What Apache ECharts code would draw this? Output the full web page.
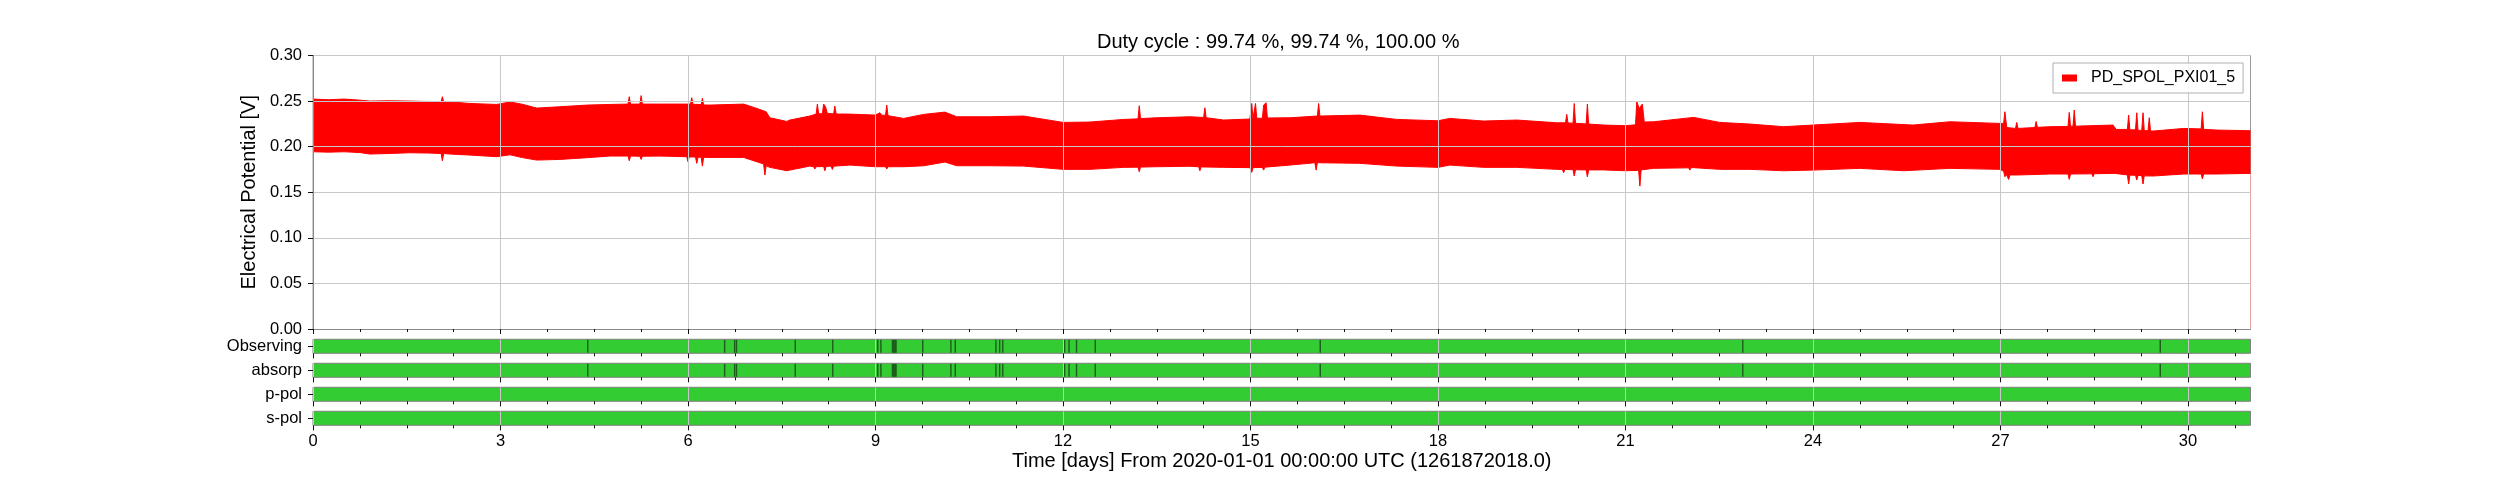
<!DOCTYPE html>
<html lang="en">
<head>
  <meta charset="UTF-8">
  <script src="https://cdn.jsdelivr.net/npm/echarts@6/dist/echarts.min.js"></script>
  <title>PD_SPOL_PXI01_5 duty cycle</title>
  <style>
    * { margin: 0; padding: 0; }
    html, body { width: 2500px; height: 500px; background: #fff; }
    #chart { width: 2500px; height: 500px; }
  </style>
</head>
<body>
<div id="chart"></div>
<script>
  // upper / lower envelope of the signal, [day, volts]
  const upperEnv = [[0.00,0.2522],[0.25,0.2515],[0.50,0.2522],[0.75,0.2510],[0.91,0.2500],[1.20,0.2503],[1.55,0.2500],[1.85,0.2495],
    [2.05,0.2493],[2.07,0.2548],[2.09,0.2492],[2.30,0.2485],[2.51,0.2474],[2.94,0.2463],[3.15,0.2490],[3.35,0.2465],[3.58,0.2423],
    [3.95,0.2438],[4.38,0.2456],[4.75,0.2463],[5.04,0.2467],[5.06,0.2548],[5.08,0.2467],[5.23,0.2467],[5.25,0.2560],[5.27,0.2467],
    [5.55,0.2467],[5.98,0.2467],[6.04,0.2467],[6.06,0.2537],[6.08,0.2465],[6.21,0.2462],[6.23,0.2530],[6.25,0.2458],[6.35,0.2456],
    [6.89,0.2467],[7.10,0.2420],[7.25,0.2383],[7.27,0.2401],[7.29,0.2340],[7.31,0.2317],[7.58,0.2277],[7.63,0.2292],[7.95,0.2336],
    [8.05,0.2357],[8.07,0.2467],[8.09,0.2360],[8.15,0.2362],[8.17,0.2467],[8.20,0.2438],[8.23,0.2365],[8.33,0.2360],[8.35,0.2445],
    [8.37,0.2358],[8.59,0.2357],[9.00,0.2346],[9.07,0.2372],[9.10,0.2345],[9.16,0.2345],[9.18,0.2456],[9.20,0.2340],[9.45,0.2310],
    [9.77,0.2354],[10.11,0.2379],[10.30,0.2328],[10.83,0.2328],[11.37,0.2336],[12.00,0.2266],[12.43,0.2270],[12.97,0.2299],
    [13.20,0.2305],[13.22,0.2449],[13.24,0.2308],[13.50,0.2317],[14.03,0.2328],[14.25,0.2320],[14.27,0.2427],[14.29,0.2318],
    [14.57,0.2292],[14.99,0.2303],[15.02,0.2474],[15.04,0.2310],[15.06,0.2310],[15.08,0.2474],[15.10,0.2312],[15.19,0.2312],
    [15.21,0.2456],[15.23,0.2460],[15.25,0.2482],[15.27,0.2315],[15.63,0.2317],[16.07,0.2336],[16.09,0.2474],[16.11,0.2336],
    [16.75,0.2346],[17.34,0.2299],[18.00,0.2284],[18.19,0.2310],[18.73,0.2281],[19.26,0.2292],[19.90,0.2262],[20.04,0.2262],
    [20.06,0.2354],[20.08,0.2260],[20.16,0.2258],[20.18,0.2474],[20.20,0.2256],[20.37,0.2250],[20.39,0.2467],[20.41,0.2248],
    [20.65,0.2237],[21.00,0.2230],[21.16,0.2240],[21.18,0.2493],[21.22,0.2420],[21.27,0.2467],[21.30,0.2270],[21.45,0.2273],
    [22.09,0.2321],[22.51,0.2266],[22.99,0.2248],[23.53,0.2219],[24.00,0.2237],[24.75,0.2266],[25.60,0.2237],[26.19,0.2273],
    [26.99,0.2255],[27.05,0.2255],[27.07,0.2383],[27.10,0.2210],[27.24,0.2200],[27.26,0.2266],[27.28,0.2200],[27.55,0.2210],
    [27.57,0.2276],[27.59,0.2212],[27.79,0.2219],[28.08,0.2222],[28.10,0.2376],[28.12,0.2225],[28.16,0.2225],[28.18,0.2401],
    [28.20,0.2225],[28.80,0.2237],[28.85,0.2189],[29.03,0.2189],[29.05,0.2346],[29.07,0.2185],[29.16,0.2185],[29.18,0.2372],
    [29.20,0.2180],[29.26,0.2178],[29.28,0.2372],[29.30,0.2176],[29.36,0.2175],[29.38,0.2317],[29.40,0.2172],[29.44,0.2171],
    [29.93,0.2200],[30.21,0.2195],[30.23,0.2383],[30.25,0.2190],[30.46,0.2182],[31.00,0.2175]];

  const lowerEnv = [[0.00,0.1944],[0.25,0.1940],[0.50,0.1944],[0.75,0.1935],[0.91,0.1919],[1.20,0.1925],[1.55,0.1933],[1.85,0.1930],
    [2.05,0.1925],[2.07,0.1846],[2.09,0.1924],[2.30,0.1915],[2.51,0.1908],[2.94,0.1890],[3.15,0.1911],[3.35,0.1880],[3.58,0.1853],
    [3.95,0.1860],[4.38,0.1879],[4.75,0.1897],[5.04,0.1897],[5.06,0.1846],[5.08,0.1897],[5.23,0.1895],[5.25,0.1860],[5.27,0.1895],
    [5.55,0.1897],[5.98,0.1890],[6.00,0.1835],[6.02,0.1888],[6.12,0.1886],[6.14,0.1817],[6.16,0.1884],[6.21,0.1884],[6.23,0.1787],
    [6.25,0.1883],[6.35,0.1882],[6.89,0.1882],[7.10,0.1835],[7.21,0.1810],[7.23,0.1689],[7.25,0.1790],[7.31,0.1773],[7.58,0.1736],
    [7.63,0.1743],[7.95,0.1787],[8.01,0.1780],[8.03,0.1755],[8.05,0.1780],[8.17,0.1782],[8.19,0.1736],[8.21,0.1784],[8.29,0.1785],
    [8.31,0.1750],[8.33,0.1786],[8.59,0.1798],[9.00,0.1780],[9.16,0.1780],[9.18,0.1755],[9.20,0.1780],[9.45,0.1780],[9.77,0.1790],
    [10.11,0.1831],[10.30,0.1791],[10.83,0.1791],[11.37,0.1787],[12.00,0.1751],[12.43,0.1751],[12.97,0.1773],[13.20,0.1775],
    [13.22,0.1725],[13.24,0.1776],[13.50,0.1780],[14.03,0.1785],[14.17,0.1780],[14.19,0.1736],[14.21,0.1778],[14.57,0.1773],
    [14.99,0.1770],[15.00,0.1770],[15.02,0.1718],[15.04,0.1770],[15.19,0.1772],[15.21,0.1743],[15.23,0.1775],[15.63,0.1798],
    [16.03,0.1824],[16.05,0.1743],[16.07,0.1824],[16.75,0.1817],[17.34,0.1787],[18.00,0.1773],[18.19,0.1798],[18.73,0.1773],
    [19.26,0.1773],[19.90,0.1751],[19.99,0.1750],[20.01,0.1714],[20.03,0.1750],[20.16,0.1748],[20.18,0.1678],[20.20,0.1746],
    [20.37,0.1745],[20.39,0.1670],[20.41,0.1745],[20.65,0.1745],[21.00,0.1736],[21.21,0.1740],[21.23,0.1568],[21.25,0.1745],
    [21.45,0.1762],[22.01,0.1768],[22.03,0.1743],[22.05,0.1770],[22.09,0.1770],[22.51,0.1751],[22.99,0.1751],[23.53,0.1736],
    [24.00,0.1743],[24.75,0.1762],[25.45,0.1736],[26.19,0.1762],[26.99,0.1751],[27.05,0.1730],[27.07,0.1670],[27.09,0.1700],
    [27.11,0.1695],[27.13,0.1641],[27.15,0.1690],[27.26,0.1689],[27.79,0.1700],[28.08,0.1700],[28.10,0.1641],[28.12,0.1700],
    [28.46,0.1702],[28.48,0.1670],[28.50,0.1703],[28.83,0.1707],[29.03,0.1690],[29.05,0.1590],[29.07,0.1688],[29.16,0.1686],
    [29.18,0.1634],[29.20,0.1684],[29.26,0.1682],[29.28,0.1590],[29.30,0.1680],[29.44,0.1678],[29.93,0.1700],[30.21,0.1700],
    [30.23,0.1645],[30.25,0.1700],[30.46,0.1700],[31.00,0.1707]];

  // state rows: known span and inactive segments [start, end] in days
  const stateNames = ['Observing', 'absorp', 'p-pol', 's-pol'];
  const stateSpan = [0, 31];
  const offObserving = [[4.385,4.395],[6.575,6.585],[6.735,6.745],[6.765,6.775],[7.705,7.715],[8.305,8.315],[9.025,9.035],
    [9.075,9.085],[9.26,9.34],[9.745,9.755],[10.195,10.205],[10.265,10.275],[10.915,10.925],[10.975,10.985],[11.025,11.035],
    [12.015,12.025],[12.085,12.095],[12.205,12.215],[12.505,12.515],[16.105,16.115],[22.865,22.875],[29.545,29.56]];
  const offAbsorp = offObserving.slice();
  const offPpol = [];
  const offSpol = [];
  const stateOff = [offObserving, offAbsorp, offPpol, offSpol];

  const majorTicks = [0, 3, 6, 9, 12, 15, 18, 21, 24, 27, 30];
  const minorTicks = [];
  for (let t = 0.75; t < 31; t += 0.75) {
    if (Math.abs(t / 3 - Math.round(t / 3)) > 1e-6) minorTicks.push(+t.toFixed(2));
  }
  const yTicks = [0, 0.05, 0.10, 0.15, 0.20, 0.25, 0.30];

  const FONT = 'Liberation Sans';
  const LEFT = 313, WIDTH = 1937.5;

  let myChart = echarts.init(document.getElementById('chart'));

  function segItem(fill, stroke) {
    return function (params, api) {
      let s = api.coord([api.value(0), api.value(2)]);
      let e = api.coord([api.value(1), api.value(2)]);
      let h = api.size([0, 1])[1];
      let inset = stroke ? 0 : 0.5;
      return {
        type: 'rect',
        shape: { x: s[0], y: s[1] - h / 2 + inset, width: Math.max(e[0] - s[0], 1.4), height: h - 2 * inset },
        style: { fill: fill, stroke: stroke || null, lineWidth: stroke ? 1 : 0 }
      };
    };
  }

  let grids = [{ left: LEFT, top: 55.5, width: WIDTH, height: 273.5, show: true, borderColor: '#9a9a9a', borderWidth: 1, backgroundColor: '#fff' }];
  let xAxes = [];
  let yAxes = [];
  let series = [];

  function addXAxes(gi, last) {
    // major axis: grid lines, major ticks, labels
    xAxes.push({
      gridIndex: gi, type: 'value', position: 'bottom', min: 0, max: 31, interval: 3, z: 10,
      axisLine: { show: gi === 0, lineStyle: { color: '#8a8a8a', width: 1 } },
      axisTick: { show: true, length: 5, customValues: majorTicks, lineStyle: { color: '#111' } },
      axisLabel: { show: last, customValues: majorTicks, margin: 8, fontSize: 16.5, fontFamily: FONT, color: '#000' },
      splitLine: { show: true, lineStyle: { color: '#c8c8c8', width: 1 } },
      name: last ? 'Time [days] From 2020-01-01 00:00:00 UTC (1261872018.0)' : '',
      nameLocation: 'middle', nameGap: 24,
      nameTextStyle: { fontSize: 20, fontFamily: FONT, color: '#000' }
    });
    // minor ticks
    xAxes.push({
      gridIndex: gi, type: 'value', position: 'bottom', min: 0, max: 31, interval: 3, z: 10,
      axisLine: { show: false },
      axisTick: { show: true, length: 3, customValues: minorTicks, lineStyle: { color: '#111' } },
      axisLabel: { show: false },
      splitLine: { show: false }
    });
  }

  addXAxes(0, false);
  yAxes.push({
    gridIndex: 0, type: 'value', min: 0, max: 0.3, interval: 0.05, z: 10,
    axisLine: { show: true, lineStyle: { color: '#8a8a8a' } },
    axisTick: { show: true, length: 5, lineStyle: { color: '#111' } },
    axisLabel: { margin: 11, fontSize: 16.5, fontFamily: FONT, color: '#000', formatter: v => v.toFixed(2) },
    splitLine: { show: true, lineStyle: { color: '#c8c8c8', width: 1 } },
    name: 'Electrical Potential [V]', nameLocation: 'middle', nameGap: 50,
    nameTextStyle: { fontSize: 20, fontFamily: FONT, color: '#000' }
  });

  series.push({
    name: 'PD_SPOL_PXI01_5', type: 'line', xAxisIndex: 0, yAxisIndex: 0,
    data: upperEnv, symbol: 'none', color: '#ff0000', z: 2,
    lineStyle: { color: '#ff0000', width: 1 },
    areaStyle: { color: '#ff0000', opacity: 1 }
  });
  // white fill below the lower envelope
  series.push({
    name: 'lower', type: 'line', xAxisIndex: 0, yAxisIndex: 0,
    data: lowerEnv, symbol: 'none', z: 3,
    lineStyle: { color: '#ff0000', width: 1 },
    areaStyle: { color: '#ffffff', opacity: 1 }
  });

  stateNames.forEach(function (name, i) {
    let gi = i + 1;
    grids.push({ left: LEFT, top: 339.3 + 24 * i, width: WIDTH, height: 14 });
    addXAxes(gi, i === stateNames.length - 1);
    yAxes.push({
      gridIndex: gi, type: 'category', data: [name], z: 10,
      axisLine: { show: false },
      axisTick: { show: true, alignWithLabel: true, length: 5, lineStyle: { color: '#111' } },
      axisLabel: { margin: 11, fontSize: 16.5, fontFamily: FONT, color: '#000' },
      splitLine: { show: false }
    });
    let xi = gi * 2;
    series.push({
      type: 'custom', xAxisIndex: xi, yAxisIndex: gi, z: 2,
      renderItem: segItem('#33cc33', '#7f7f7f'),
      encode: { x: [0, 1], y: 2 },
      data: [[stateSpan[0], stateSpan[1], 0]]
    });
    series.push({
      type: 'custom', xAxisIndex: xi, yAxisIndex: gi, z: 3,
      renderItem: segItem('#1d5c1d', null),
      encode: { x: [0, 1], y: 2 },
      data: stateOff[i].map(s => [s[0], s[1], 0])
    });
  });

  let option = {
    animation: false,
    backgroundColor: '#fff',
    textStyle: { fontFamily: FONT, color: '#000' },
    title: {
      text: 'Duty cycle : 99.74 %, 99.74 %, 100.00 %',
      left: 1092, top: 27,
      textStyle: { fontSize: 20, fontWeight: 'normal', fontFamily: FONT, color: '#000' }
    },
    legend: {
      data: ['PD_SPOL_PXI01_5'],
      left: 2053, top: 63, z: 12,
      icon: 'rect', itemWidth: 15, itemHeight: 7,
      padding: [6, 8, 6, 9],
      borderColor: '#b0b0b0', borderWidth: 1,
      backgroundColor: 'rgba(255,255,255,0.8)',
      textStyle: { fontSize: 16, fontFamily: FONT, color: '#000', padding: [0, 0, 0, 9], lineHeight: 18 }
    },
    grid: grids,
    xAxis: xAxes,
    yAxis: yAxes,
    series: series
  };

  myChart.setOption(option);
</script>
</body>
</html>
